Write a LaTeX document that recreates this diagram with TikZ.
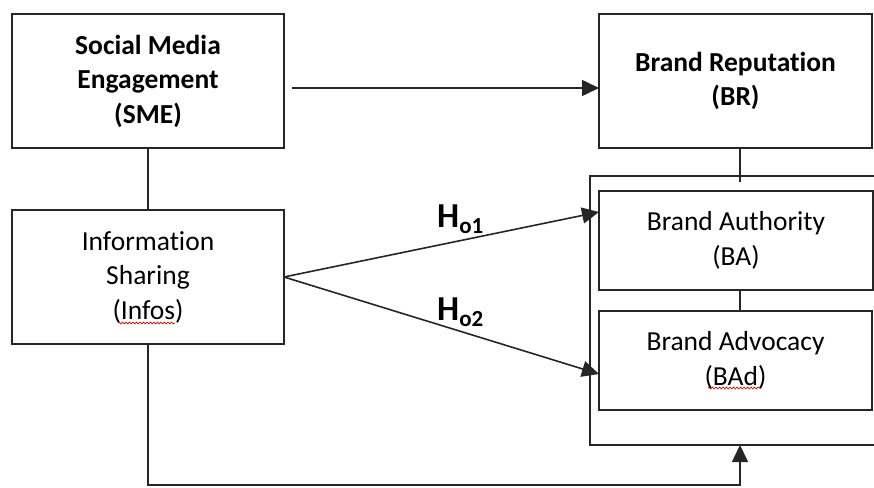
\documentclass[tikz,border=0pt]{standalone}
\usepackage{fontspec}
\setmainfont{Carlito}[Ligatures=NoCommon]
\usetikzlibrary{arrows.meta,decorations.pathmorphing}
\begin{document}
\begin{tikzpicture}[x=1pt,y=-1pt,
  ln/.style={line width=1.6pt,draw=black!85},
  arr/.style={ln,-{Triangle[length=17pt,width=16pt]}},
  box/.style={ln,rectangle,inner sep=0pt,outer sep=0pt,align=center,
    font=\fontsize{27.5}{34.5}\selectfont,text=black},
  hyp/.style={inner sep=0pt,anchor=base west,text=black},
  wavy/.style={draw=red!85!black,line width=0.7pt,decorate,
    decoration={snake,amplitude=0.9pt,segment length=3.5pt}}]
\useasboundingbox (0,0) rectangle (874,487);
% boxes
\node[box,minimum width=272,minimum height=134] (sme) at (148,81)
  {\bfseries Social Media\\\bfseries Engagement\\\bfseries (SME)};
\node[box,minimum width=273,minimum height=134] (br) at (735.5,81)
  {\bfseries Brand Reputat\kern0pt ion\\\bfseries (BR)};
\node[box,minimum width=272,minimum height=134] (infos) at (148,277)
  {Information\\Sharing\\(Infos)};
\node[box,minimum width=274,minimum height=99] (ba) at (736,240.5)
  {Brand Authority\\(BA)};
\node[box,minimum width=273,minimum height=99] (bad) at (735.5,360.5)
  {Brand Advocacy\\(BAd)};
% outer frame (open at the right edge)
\coordinate (outt) at (740,176);
\coordinate (outb) at (740,445);
\draw[ln] (876,176) -- (590,176) -- (590,445) -- (876,445);
% spell-check marks
\draw[wavy] (118,323) -- (175,323);
\draw[wavy] (708,388) -- (760,388);
% connectors
\coordinate (smeout) at ([shift={(8,7)}]sme.east);
\draw[arr] (smeout) -- (br.west |- smeout);
\draw[ln] (sme.south) -- (infos.north);
\draw[ln] (br.south -| outt) -- ([yshift=-6pt]outt);
\draw[ln] (ba.south -| outt) -- (bad.north -| outt);
\draw[arr] (infos.east) -- ([shift={(0,21)}]ba.north west);
\draw[arr] (infos.east) -- ([shift={(0,63)}]bad.north west);
\draw[arr] (infos.south) |- ([yshift=-40pt]outb) -- (outb);
% hypothesis labels
\node[hyp] (h1) at (437,227) {\fontsize{35}{35}\selectfont\bfseries H\raisebox{-6pt}{\fontsize{23}{23}\selectfont o1}};
\node[hyp] (h2) at (437,320) {\fontsize{35}{35}\selectfont\bfseries H\raisebox{-6pt}{\fontsize{23}{23}\selectfont o2}};
\end{tikzpicture}
\end{document}
